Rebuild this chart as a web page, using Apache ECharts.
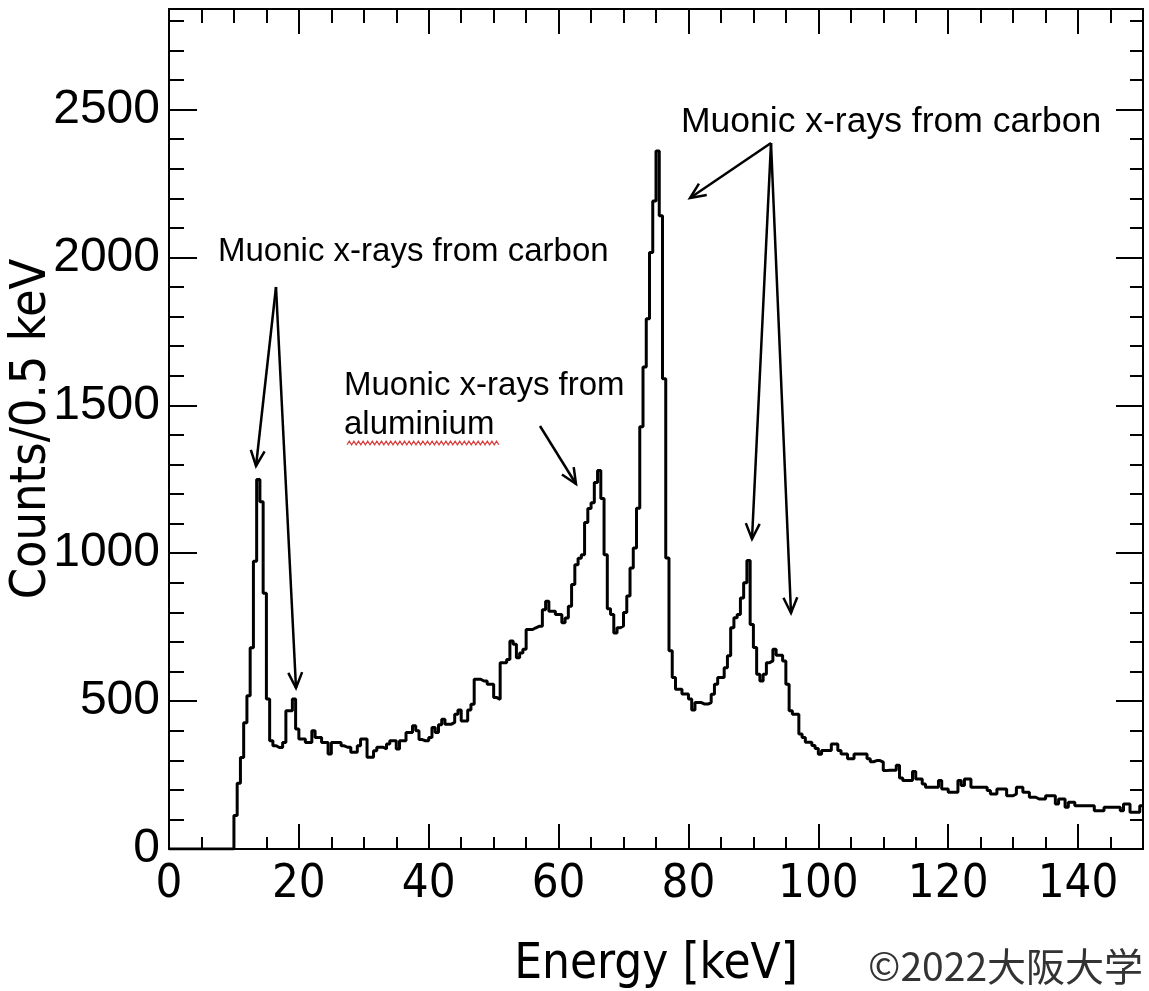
<!DOCTYPE html>
<html lang="en">
<head>
<meta charset="UTF-8">
<title>Muonic x-ray spectrum</title>
<script src="https://cdn.jsdelivr.net/npm/echarts@6.0.0/dist/echarts.min.js"></script>
<style>
    body { margin: 0; background: #fff; }
    #main { width: 1149px; height: 991px; }
</style>
</head>
<body>
<div id="main"></div>
<script>
    // histogram, 0.5 keV per bin
    var binWidth = 0.5;
    var counts0to30 = [
        0, 0, 0, 0, 0, 0, 0, 0, 0, 0, 0, 0, 0, 0, 0, 0, 0, 0, 0, 0,
        113, 222, 309, 427, 518, 680, 973, 1249, 1174, 865, 507, 366, 349, 343, 343, 360, 467, 467, 507, 406,
        372, 372, 360, 360, 400, 377, 377, 360, 360, 321, 360, 360, 360, 349, 344, 344, 327, 327, 349, 372
    ];
    var counts30to60 = [
        372, 310, 310, 332, 344, 344, 338, 355, 366, 366, 338, 366, 366, 394, 394, 417, 400, 370, 366, 366,
        377, 411, 394, 420, 439, 422, 422, 428, 456, 470, 433, 433, 470, 489, 574, 574, 568, 568, 557, 557,
        512, 506, 630, 630, 641, 703, 692, 647, 663, 675, 742, 742, 748, 753, 753, 809, 838, 804, 804, 793
    ];
    var counts60to90 = [
        793, 765, 781, 821, 894, 961, 983, 995, 1104, 1151, 1171, 1239, 1280, 1185, 995, 812, 793, 730, 748, 754,
        800, 855, 950, 1018, 1152, 1428, 1630, 1793, 2017, 2191, 2360, 2141, 1590, 984, 670, 580, 540, 540, 524, 524,
        507, 470, 495, 495, 490, 490, 495, 523, 557, 580, 580, 613, 653, 748, 782, 793, 849, 900, 975, 759
    ];
    var counts90to120 = [
        681, 591, 568, 591, 630, 636, 675, 655, 655, 636, 557, 467, 456, 456, 389, 377, 361, 361, 350, 340,
        320, 333, 333, 333, 355, 355, 333, 321, 321, 305, 305, 321, 321, 321, 321, 305, 295, 299, 299, 294,
        265, 266, 266, 266, 283, 240, 232, 232, 232, 262, 237, 237, 220, 209, 209, 209, 209, 232, 203, 203
    ];
    var counts120to150 = [
        192, 192, 192, 232, 215, 237, 237, 209, 209, 209, 209, 209, 198, 186, 186, 203, 203, 203, 180, 180,
        186, 209, 209, 192, 192, 175, 175, 169, 169, 169, 180, 180, 180, 152, 169, 169, 141, 158, 158, 146,
        146, 146, 146, 146, 146, 129, 129, 129, 141, 141, 141, 141, 141, 129, 152, 152, 124, 124, 124, 146
    ];

    var xMajorTicks = [0, 20, 40, 60, 80, 100, 120, 140];
    var yMajorTicks = [0, 500, 1000, 1500, 2000, 2500];

    var counts = counts0to30.concat(counts30to60, counts60to90, counts90to120, counts120to150);
    var histData = counts.map(function (v, i) { return [i * binWidth, v]; });
    histData.push([counts.length * binWidth, counts[counts.length - 1]]);

    var narrow = '"Liberation Sans Narrow", "Arial Narrow", "DejaVu Sans Condensed", sans-serif';
    var regular = '"Liberation Sans", Arial, sans-serif';

    // one axis per tick size and side, all pinned to the frame (onZero off)
    function xAx(pos, interval, len, labels) {
        return {
            type: 'value', position: pos, min: 0, max: 150, interval: interval, offset: 0,
            axisLine: { show: true, onZero: false, lineStyle: { color: '#000', width: 2 } },
            axisTick: { show: true, inside: true, length: len, lineStyle: { color: '#000', width: 2 } },
            splitLine: { show: false },
            axisLabel: labels ? {
                show: true, color: '#000', fontFamily: narrow, fontSize: 47, margin: 12,
                showMaxLabel: false,
                formatter: function (v) { return xMajorTicks.indexOf(v) >= 0 ? String(v) : ''; }
            } : { show: false }
        };
    }
    function yAx(pos, interval, len, labels) {
        return {
            type: 'value', position: pos, min: 0, max: 2840, interval: interval, offset: 0,
            axisLine: { show: true, onZero: false, lineStyle: { color: '#000', width: 2 } },
            axisTick: { show: true, inside: true, length: len, lineStyle: { color: '#000', width: 2 } },
            splitLine: { show: false },
            axisLabel: labels ? {
                show: true, color: '#000', fontFamily: regular, fontSize: 48, margin: 9,
                showMaxLabel: false,
                formatter: function (v) { return yMajorTicks.indexOf(v) >= 0 ? String(v) : ''; }
            } : { show: false }
        };
    }

    var xAxes = [xAx('bottom', 20, 25, true), xAx('bottom', 5, 12, false), xAx('top', 20, 25, false), xAx('top', 5, 14, false)];
    xAxes[0].name = 'Energy [keV]';
    xAxes[0].nameLocation = 'middle';
    xAxes[0].nameGap = 92;
    xAxes[0].nameMoveOverlap = false;
    xAxes[0].nameTextStyle = { color: '#000', fontFamily: narrow, fontSize: 49 };

    var yAxes = [yAx('left', 500, 28, true), yAx('left', 100, 15, false), yAx('right', 500, 27, false), yAx('right', 100, 13, false)];
    yAxes[0].name = 'Counts/0.5 keV';
    yAxes[0].nameLocation = 'middle';
    yAxes[0].nameGap = 112;
    yAxes[0].nameRotate = 90;
    yAxes[0].nameMoveOverlap = false;
    yAxes[0].nameTextStyle = { color: '#000', fontFamily: narrow, fontSize: 50 };

    // arrow = shaft + open head
    function arrow(x1, y1, x2, y2) {
        var a = Math.atan2(y2 - y1, x2 - x1), L = 17, s = 0.42;
        var h1 = [x2 - L * Math.cos(a - s), y2 - L * Math.sin(a - s)];
        var h2 = [x2 - L * Math.cos(a + s), y2 - L * Math.sin(a + s)];
        return [
            { type: 'line', shape: { x1: x1, y1: y1, x2: x2, y2: y2 }, style: { stroke: '#000', lineWidth: 2.5 } },
            { type: 'polyline', shape: { points: [h1, [x2, y2], h2] }, style: { stroke: '#000', lineWidth: 2.5, fill: null } }
        ];
    }
    function label(text, x, y, size) {
        return { type: 'text', x: x, y: y, style: { text: text, fill: '#000', fontFamily: regular, fontSize: size, align: 'left', verticalAlign: 'middle' } };
    }

    // red spell-check squiggle under "aluminium"
    var squiggle = [];
    for (var i = 0, sx = 347; sx <= 501; i++, sx += 2.3) {
        squiggle.push([sx, 443 + (i % 2 ? -1.8 : 1.8)]);
    }

    var graphics = [].concat(
        label('Muonic x-rays from carbon', 218, 252, 33),
        label('Muonic x-rays from carbon', 681, 122, 35.5),
        label('Muonic x-rays from', 344, 386, 33),
        label('aluminium', 344, 425, 33),
        arrow(276, 287, 256, 466),
        arrow(276, 287, 296, 688),
        arrow(540, 426, 576, 484),
        arrow(771, 143, 690, 198),
        arrow(771, 143, 752, 539),
        arrow(771, 143, 791, 613),
        [{ type: 'polyline', shape: { points: squiggle }, style: { stroke: '#d93a3a', lineWidth: 1.2, fill: null } }],
        [{ type: 'text', x: 868, y: 966, style: { text: '©2022大阪大学', fill: '#333', fontFamily: '"Noto Sans CJK JP", sans-serif', fontSize: 39, align: 'left', verticalAlign: 'middle' } }]
    );

    var myChart = echarts.init(document.getElementById('main'));
    var option = {
        animation: false,
        backgroundColor: '#fff',
        grid: {
            left: 169, right: 6, top: 9, bottom: 142,
            containLabel: false, outerBoundsMode: 'none',
            show: true, borderColor: '#000', borderWidth: 2, backgroundColor: 'transparent'
        },
        xAxis: xAxes,
        yAxis: yAxes,
        series: [{
            type: 'line',
            xAxisIndex: 0,
            yAxisIndex: 0,
            step: 'end',
            symbol: 'none',
            data: histData,
            lineStyle: { color: '#000', width: 3 }
        }],
        graphic: graphics
    };
    myChart.setOption(option);
</script>
</body>
</html>
